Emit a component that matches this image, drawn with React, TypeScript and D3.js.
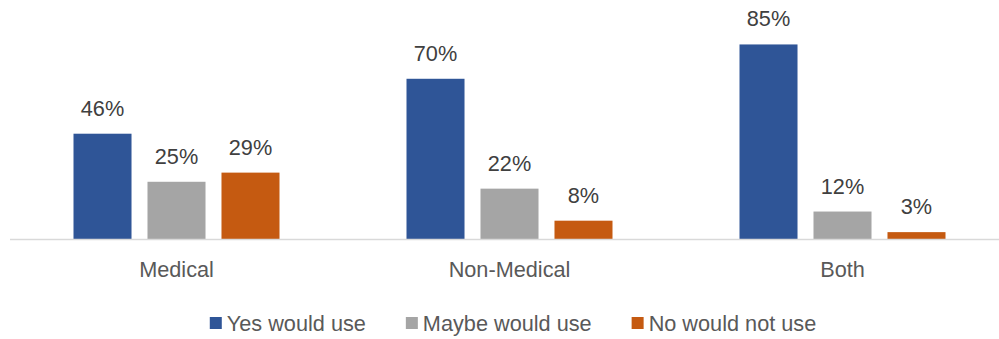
import React, { useEffect, useRef } from "react";
import * as d3 from "d3";

const categories = ["Medical", "Non-Medical", "Both"];
const seriesNames = ["Yes would use", "Maybe would use", "No would not use"];
const yesValues = [46, 70, 85];
const maybeValues = [25, 22, 12];
const noValues = [29, 8, 3];
const seriesColors = ["#2F5597", "#A5A5A5", "#C55A11"];

const W = 999;
const H = 339;
const FONT = "'Liberation Sans', Arial, sans-serif";
const FS = 21.7;

export default function App() {
  const ref = useRef<SVGSVGElement>(null);

  useEffect(() => {
    const svg = d3.select(ref.current);
    svg.selectAll("*").remove();
    const seriesValues = [yesValues, maybeValues, noValues];

    const x0 = d3.scaleBand<string>().domain(categories).range([10, 1009]).padding(0);
    const x1 = d3
      .scaleBand<string>()
      .domain(seriesNames)
      .range([63.5, 269.5])
      .paddingInner(0.216)
      .paddingOuter(0);
    const y = d3.scaleLinear().domain([0, 90]).range([239, 33]);

    const g = svg.append("g");

    categories.forEach((cat, ci) => {
      const gx = x0(cat)!;
      seriesNames.forEach((s, si) => {
        const v = seriesValues[si][ci];
        const bx = gx + x1(s)!;
        g.append("rect")
          .attr("x", bx)
          .attr("y", y(v))
          .attr("width", x1.bandwidth())
          .attr("height", y(0) - y(v))
          .attr("fill", seriesColors[si]);
        g.append("text")
          .attr("x", bx + x1.bandwidth() / 2)
          .attr("y", y(v) - 18)
          .attr("text-anchor", "middle")
          .attr("font-family", FONT)
          .attr("font-size", FS)
          .attr("fill", "#404040")
          .text(v + "%");
      });
      g.append("text")
        .attr("x", gx + x0.bandwidth() / 2)
        .attr("y", 277)
        .attr("text-anchor", "middle")
        .attr("font-family", FONT)
        .attr("font-size", FS)
        .attr("fill", "#595959")
        .text(cat);
    });

    g.append("line")
      .attr("x1", 10)
      .attr("x2", W)
      .attr("y1", 239.5)
      .attr("y2", 239.5)
      .attr("stroke", "#D9D9D9")
      .attr("stroke-width", 1.3);

    // legend
    const lg = svg.append("g");
    const items = seriesNames.map((name, i) => {
      const it = lg.append("g");
      it.append("rect")
        .attr("x", 0)
        .attr("y", -6)
        .attr("width", 12)
        .attr("height", 12)
        .attr("fill", seriesColors[i]);
      const t = it
        .append("text")
        .attr("x", 17)
        .attr("y", 7.5)
        .attr("font-family", FONT)
        .attr("font-size", FS)
        .attr("fill", "#595959")
        .text(name);
      const w = 17 + (t.node() as SVGTextElement).getComputedTextLength();
      return { it, w };
    });
    const gap = 40;
    const total = items.reduce((a, b) => a + b.w, 0) + gap * (items.length - 1);
    let cx = 513 - total / 2;
    items.forEach(({ it, w }) => {
      it.attr("transform", `translate(${cx},323)`);
      cx += w + gap;
    });
  }, []);

  return (
    <svg
      ref={ref}
      width={W}
      height={H}
      style={{ position: "absolute", left: 0, top: 0, background: "#fff" }}
    />
  );
}
